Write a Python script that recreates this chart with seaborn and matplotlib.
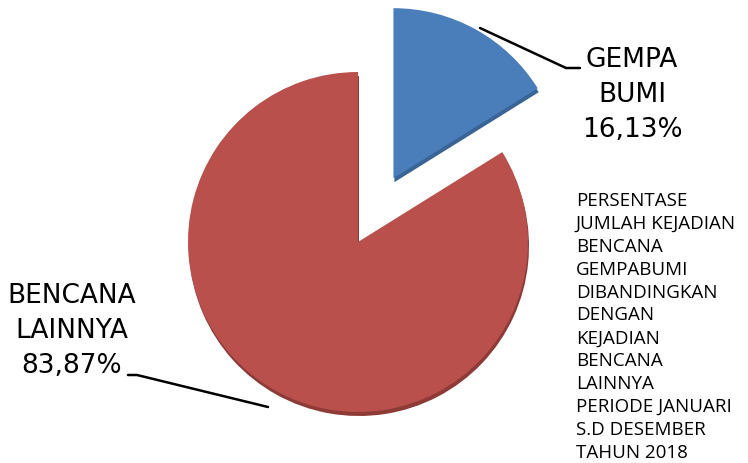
import matplotlib
matplotlib.use("Agg")
import matplotlib.pyplot as plt
import seaborn as sns

categories = ["GEMPA\nBUMI", "BENCANA\nLAINNYA"]
values = [16.13, 83.87]
value_labels = ["16,13%", "83,87%"]
colors = ["#4A7EBA", "#BA504C"]
shade = ["#3A6496", "#8E3A37"]
note_lines = ["PERSENTASE", "JUMLAH KEJADIAN", "BENCANA", "GEMPABUMI",
              "DIBANDINGKAN", "DENGAN", "KEJADIAN", "BENCANA", "LAINNYA",
              "PERIODE JANUARI", "S.D DESEMBER", "TAHUN 2018"]

sns.set_style("white")
plt.rcParams['font.family'] = ['DejaVu Sans']

W, H = 748, 463
fig = plt.figure(figsize=(W / 100, H / 100), dpi=100)
ax = fig.add_axes([0, 0, 1, 1])

def Y(py):
    return H - py

cx, cy, r = 358, 242, 170
explode = [73, 0]

# thickness (3D rim)
ax.pie(values, colors=shade, startangle=90, counterclock=False,
       explode=explode, center=(cx + 1, Y(cy) - 4), radius=r, frame=True,
       wedgeprops=dict(linewidth=0))
ax.pie(values, colors=colors, startangle=90, counterclock=False,
       explode=explode, center=(cx, Y(cy)), radius=r, frame=True,
       wedgeprops=dict(linewidth=0))
ax.set_xlim(0, W)
ax.set_ylim(0, H)
ax.set_aspect("auto")
ax.axis("off")

# labels
lab_top = categories[0].split("\n") + [value_labels[0]]
for i, s in enumerate(lab_top):
    ax.text(632, Y(60 + 35 * i), s, ha="center", va="center",
            fontsize=19, color="black")
lab_bot = categories[1].split("\n") + [value_labels[1]]
for i, s in enumerate(lab_bot):
    ax.text(72, Y(296 + 35 * i), s, ha="center", va="center",
            fontsize=19, color="black")

# leader lines
ax.plot([480, 566, 580], [Y(28), Y(68), Y(68)], color="black", lw=1.8)
ax.plot([128, 137, 268], [Y(375), Y(375), Y(407)], color="black", lw=1.8)

# note block
for i, s in enumerate(note_lines):
    ax.text(576, Y(201 + 22.9 * i), s, ha="left", va="center",
            fontsize=13.5, family=["Open Sans", "DejaVu Sans"], color="black")

fig.savefig("out.png", dpi=100)
